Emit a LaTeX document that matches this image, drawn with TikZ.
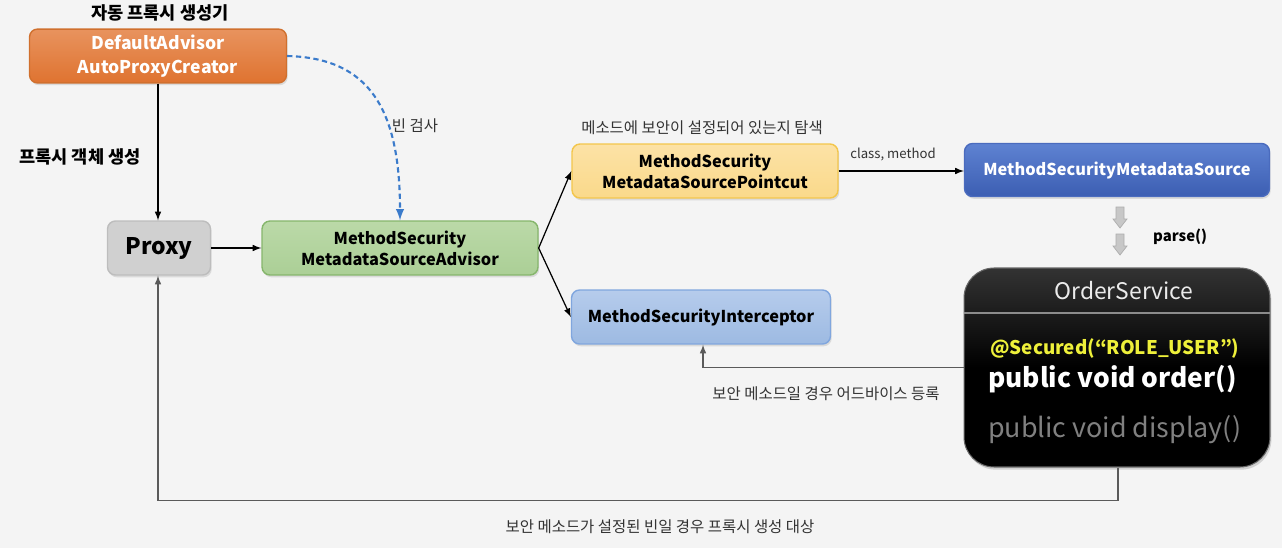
\documentclass[tikz,border=0pt]{standalone}
\usepackage{fontspec}
\setmainfont{Noto Sans CJK KR}
\usepackage{tikz}
\usetikzlibrary{calc,arrows,shadows}

\definecolor{bgcol}{HTML}{F4F4F4}
\definecolor{orangetop}{HTML}{E8935E}
\definecolor{orangebot}{HTML}{DF7330}
\definecolor{orangeline}{HTML}{D0702E}
\definecolor{proxyfill}{HTML}{D0D0D0}
\definecolor{proxyline}{HTML}{BDBDBD}
\definecolor{greentop}{HTML}{BBD9A8}
\definecolor{greenbot}{HTML}{ABCF96}
\definecolor{greenline}{HTML}{86B66C}
\definecolor{yellowtop}{HTML}{FCE2A6}
\definecolor{yellowbot}{HTML}{FAD98A}
\definecolor{yellowline}{HTML}{F3C64C}
\definecolor{bluetop}{HTML}{5E82D2}
\definecolor{bluebot}{HTML}{3C5EB2}
\definecolor{blueline}{HTML}{4A6BBE}
\definecolor{lbluetop}{HTML}{B6CCEC}
\definecolor{lbluebot}{HTML}{9DBAE2}
\definecolor{lblueline}{HTML}{80A6DE}
\definecolor{dashblue}{HTML}{3B7BCB}
\definecolor{linegray}{HTML}{5A5A5A}
\definecolor{secyellow}{HTML}{EEF03A}

\begin{document}
\begin{tikzpicture}[x=0.02cm,y=-0.02cm]
	\tikzstyle{box} = [rounded corners=0.16cm, draw, line width=0.8pt, align=center, font=\bfseries\fontsize{9.3}{12}\selectfont, drop shadow={opacity=0.22,shadow xshift=0.7pt,shadow yshift=-1.3pt}]
	\tikzstyle{lbl} = [font=\fontsize{8.8}{10}\selectfont, text=black!80]
	\tikzstyle{blbl} = [font=\bfseries\fontsize{10}{12}\selectfont]
	\tikzstyle{conn} = [-latex, line width=0.7pt]
	\useasboundingbox[fill=bgcol] (0,0) rectangle (1282,548);

	% boxes
	\node[box, top color=orangetop, bottom color=orangebot, draw=orangeline, text=white, minimum width=5.14cm, minimum height=1.06cm, font=\bfseries\fontsize{10}{13.5}\selectfont] (creator) at (158,56) {DefaultAdvisor\\AutoProxyCreator};
	\node[box, fill=proxyfill, draw=proxyline, minimum width=2.06cm, minimum height=1.08cm, font=\bfseries\fontsize{13}{15}\selectfont] (proxy) at (159,248) {Proxy};
	\node[box, top color=greentop, bottom color=greenbot, draw=greenline, minimum width=5.52cm, minimum height=1.08cm] (advisor) at (400,248) {MethodSecurity\\MetadataSourceAdvisor};
	\node[box, top color=yellowtop, bottom color=yellowbot, draw=yellowline, minimum width=5.32cm, minimum height=1.08cm] (pointcut) at (705,171) {MethodSecurity\\MetadataSourcePointcut};
	\node[box, top color=bluetop, bottom color=bluebot, draw=blueline, text=white, minimum width=6.1cm, minimum height=1.06cm] (source) at (1117,170) {MethodSecurityMetadataSource};
	\node[box, top color=lbluetop, bottom color=lbluebot, draw=lblueline, minimum width=5.18cm, minimum height=1.08cm] (icpt) at (701,317) {MethodSecurityInterceptor};

	% OrderService
	\node[rounded corners=0.6cm, top color=black!80, bottom color=black, middle color=black, draw=black!60, line width=0.6pt, minimum width=6.12cm, minimum height=3.98cm, drop shadow={opacity=0.3,shadow xshift=0.8pt,shadow yshift=-1.5pt}] (order) at (1117,367.5) {};
	\draw[black!45, line width=1pt] (order.west |- 0,313) -- (order.east |- 0,313);
	\node[text=black!8, font=\fontsize{13}{15}\selectfont] (ordertitle) at (1124,291) {OrderService};
	\node[anchor=west, text=secyellow, font=\bfseries\fontsize{10.7}{13}\selectfont] (secured) at (984,349) {@Secured(“ROLE\_USER”)};
	\node[anchor=west, text=white, font=\bfseries\fontsize{15}{17}\selectfont] (ordm) at (982,379) {public void order()};
	\node[anchor=west, text=black!50, font=\fontsize{15.3}{17}\selectfont] (displaym) at (982,430) {public void display()};

	% parse arrows
	\foreach \y in {207,234} {
		\draw[fill=black!22, draw=black!32, line width=0.4pt] (1116,\y) -- (1124,\y) -- (1124,\y+12) -- (1127,\y+12) -- (1120,\y+21) -- (1113,\y+12) -- (1116,\y+12) -- cycle;
	}
	\node[blbl, anchor=west, font=\bfseries\fontsize{8.5}{10}\selectfont] (parse) at (1147,237) {parse()};

	% labels
	\node[blbl] (creatortitle) at (160,13) {자동 프록시 생성기};
	\node[blbl] (createlbl) at (80,157) {프록시 객체 생성};
	\node[lbl] (beanlbl) at (415,126) {빈 검사};
	\node[lbl] (searchlbl) at (702,128) {메소드에 보안이 설정되어 있는지 탐색};
	\node[lbl, font=\fontsize{7.5}{9}\selectfont] (classlbl) at (893,155) {class, method};
	\node[lbl] (registerlbl) at (826,394) {보안 메소드일 경우 어드바이스 등록};
	\node[lbl] (targetlbl) at (660,527) {보안 메소드가 설정된 빈일 경우 프록시 생성 대상};

	% connectors
	\draw[conn] (creator.south) -- (proxy.north -| creator.south);
	\draw[-latex, dashblue, line width=1.2pt, dash pattern=on 3pt off 2pt] (creator.east) .. controls (370,58) and (400,110) .. (advisor.north);
	\draw[conn] (proxy.east) -- (advisor.west);
	\draw[conn] (advisor.east) -- (pointcut.west);
	\draw[conn] (advisor.east) -- (icpt.south west |- icpt.west);
	\draw[conn] (pointcut.east) -- (source.west |- pointcut.east);
	\draw[conn, draw=linegray] (order.west) -| ($(icpt.south)+(2,0)$);
	\coordinate (loop) at ($(order.south)+(1,33)$);
	\draw[conn, draw=linegray] ($(order.south)+(1,0)$) -- (loop) -| (proxy.south -| creator.south);
\end{tikzpicture}
\end{document}
